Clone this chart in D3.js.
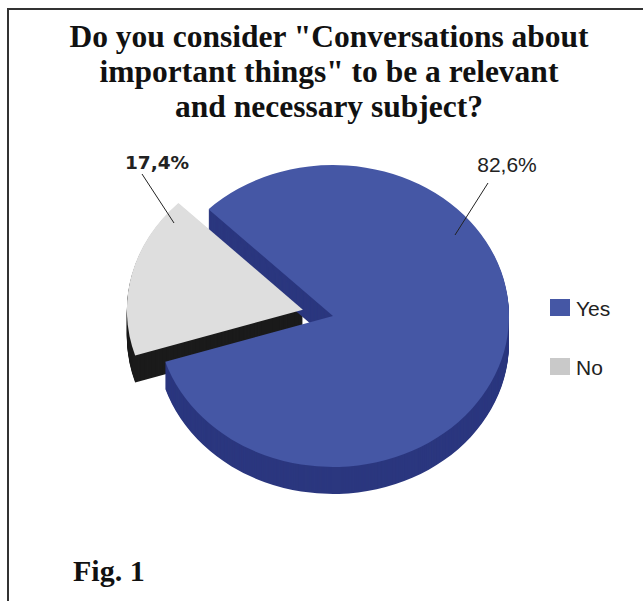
<!DOCTYPE html>
<html>
<head>
<meta charset="utf-8">
<script src="https://cdn.jsdelivr.net/npm/d3@7.9.0/dist/d3.min.js"></script>
<style>
  body { margin: 0; background: #fff; }
  svg { display: block; }
</style>
</head>
<body>
<svg id="chart" width="643" height="601"></svg>
<script>
const categories = ["Yes", "No"];
const values = [82.6, 17.4];
const labels = ["82,6%", "17,4%"];
const titleLines = [
  "Do you consider \"Conversations about",
  "important things\" to be a relevant",
  "and necessary subject?"
];

const topColors = ["#4557a5", "#dedede"];
const sideColors = ["#2b377f", "#1b1b1b"];
const legendColors = ["#4557a5", "#c9c9c9"];

const W = 643, H = 601;
const cx = 333, cy = 316;
const rx = 176, ry = 151;
const depth = 27;
const explode = 31;

const svg = d3.select("#chart");

// frame
svg.append("line").attr("x1", 7).attr("y1", 9).attr("x2", W).attr("y2", 9)
  .attr("stroke", "#333").attr("stroke-width", 2);
svg.append("line").attr("x1", 8).attr("y1", 9).attr("x2", 8).attr("y2", H)
  .attr("stroke", "#333").attr("stroke-width", 2);

// title
svg.append("g").selectAll("text")
  .data(titleLines)
  .join("text")
  .attr("x", 329)
  .attr("y", (d, i) => 47 + i * 35)
  .attr("text-anchor", "middle")
  .attr("font-family", "Liberation Serif, Times New Roman, serif")
  .attr("font-weight", "bold")
  .attr("font-size", "31.5px")
  .attr("fill", "#111")
  .text(d => d);

// pie
const pie = d3.pie().sort(null)
  .startAngle(-Math.PI / 4)
  .endAngle(-Math.PI / 4 + 2 * Math.PI);
const arcs = pie(values);
const arc = d3.arc().innerRadius(0).outerRadius(rx);

function offset(d, i) {
  if (i === 0) return [0, 0];
  const mid = (d.startAngle + d.endAngle) / 2;
  return [Math.sin(mid) * explode, -Math.cos(mid) * explode * ry / rx];
}

const pieG = svg.append("g");
const layers = d3.range(depth, 0, -1);

// side walls, drawn as stacked copies shifted downward
[1, 0].forEach(i => {
  const d = arcs[i];
  const [ox, oy] = offset(d, i);
  pieG.append("g").selectAll("path")
    .data(layers)
    .join("path")
    .attr("transform", k => `translate(${cx + ox},${cy + oy + k}) scale(1,${ry / rx})`)
    .attr("d", arc(d))
    .attr("fill", sideColors[i]);
});

// top faces
[1, 0].forEach(i => {
  const d = arcs[i];
  const [ox, oy] = offset(d, i);
  pieG.append("path")
    .attr("transform", `translate(${cx + ox},${cy + oy}) scale(1,${ry / rx})`)
    .attr("d", arc(d))
    .attr("fill", topColors[i]);
});

// labels with leader lines
const labelPos = [
  { tx: 507, ty: 172, font: "Liberation Sans, Arial, sans-serif", size: 21, weight: "normal",
    x1: 488, y1: 183, x2: 455, y2: 235 },
  { tx: 157, ty: 169, font: "DejaVu Sans, Verdana, sans-serif", size: 18.5, weight: "bold",
    x1: 142, y1: 174, x2: 174, y2: 223 }
];
labels.forEach((t, i) => {
  const p = labelPos[i];
  svg.append("line")
    .attr("x1", p.x1).attr("y1", p.y1).attr("x2", p.x2).attr("y2", p.y2)
    .attr("stroke", "#222").attr("stroke-width", 1);
  svg.append("text")
    .attr("x", p.tx).attr("y", p.ty)
    .attr("text-anchor", "middle")
    .attr("font-family", p.font)
    .attr("font-weight", p.weight)
    .attr("font-size", p.size + "px")
    .attr("fill", "#222")
    .text(t);
});

// legend
const legend = svg.append("g").attr("transform", "translate(550,299)");
const item = legend.selectAll("g")
  .data(categories)
  .join("g")
  .attr("transform", (d, i) => `translate(0,${i * 59})`);
item.append("rect")
  .attr("width", 20).attr("height", 17)
  .attr("fill", (d, i) => legendColors[i]);
item.append("text")
  .attr("x", 26).attr("y", 17)
  .attr("font-family", "Liberation Sans, Arial, sans-serif")
  .attr("font-size", "21px")
  .attr("fill", "#222")
  .text(d => d);

// figure caption
svg.append("text")
  .attr("x", 73).attr("y", 581)
  .attr("font-family", "Liberation Serif, Times New Roman, serif")
  .attr("font-weight", "bold")
  .attr("font-size", "30px")
  .attr("fill", "#111")
  .text("Fig. 1");
</script>
</body>
</html>
